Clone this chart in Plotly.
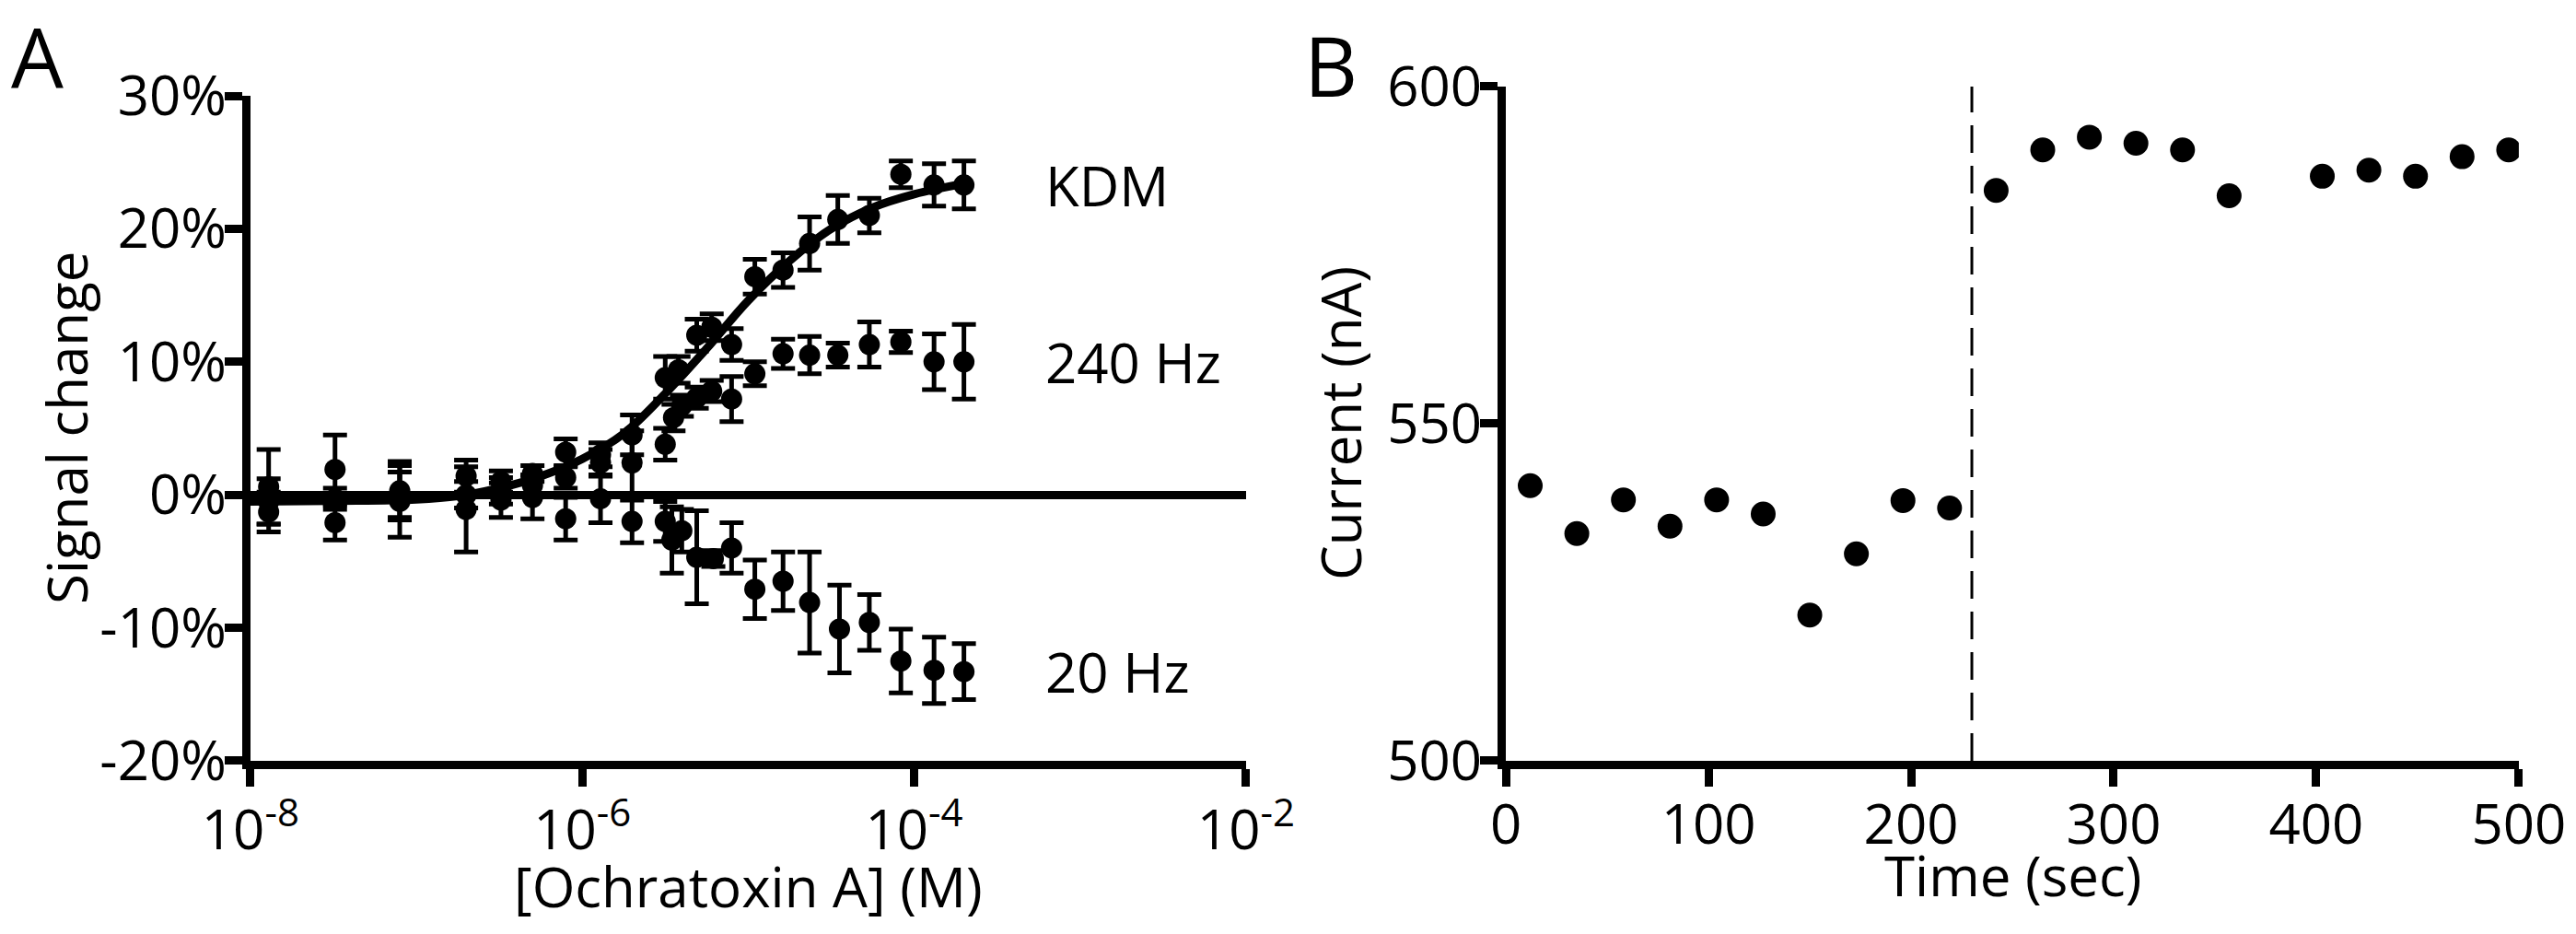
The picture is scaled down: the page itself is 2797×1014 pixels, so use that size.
import numpy as np
import plotly.graph_objects as go

# ---- panel A: signal change vs [Ochratoxin A] (log10 M) ----
kdm_logc = [-7.89, -7.49, -7.10, -6.70, -6.49, -6.30, -6.10, -5.89, -5.70, -5.50, -5.42,
            -5.31, -5.22, -5.10, -4.96, -4.79, -4.63, -4.46, -4.27, -4.08, -3.88, -3.70]
kdm_signal = [0.6, -0.3, 0.0, 0.0, 0.3, 1.6, 3.2, 3.0, 4.5, 8.8, 9.4,
              12.0, 12.6, 11.3, 16.4, 16.9, 18.9, 20.7, 21.0, 24.1, 23.3, 23.3]
kdm_err = [2.8, 0.8, 1.7, 1.0, 1.0, 0.6, 1.0, 0.9, 1.5, 1.6, 1.0,
           1.2, 1.0, 1.2, 1.3, 1.3, 2.0, 1.8, 1.3, 1.0, 1.6, 1.8]

hz240_logc = [-7.89, -7.49, -7.10, -6.70, -6.49, -6.30, -6.10, -5.89, -5.70, -5.50, -5.45, -5.40,
              -5.31, -5.22, -5.10, -4.96, -4.79, -4.63, -4.46, -4.27, -4.08, -3.88, -3.70]
hz240_signal = [-0.5, 1.9, 0.3, 1.4, 1.0, 0.7, 1.3, 2.4, 2.4, 3.8, 5.8, 6.7,
                7.3, 7.8, 7.2, 9.1, 10.6, 10.5, 10.5, 11.3, 11.5, 10.0, 10.0]
hz240_err = [1.7, 2.6, 2.2, 1.2, 0.8, 0.8, 0.8, 1.0, 2.4, 1.2, 1.0, 0.8,
             0.8, 0.8, 1.7, 0.9, 1.1, 1.4, 0.9, 1.7, 0.8, 2.1, 2.8]

hz20_logc = [-7.89, -7.49, -7.10, -6.70, -6.49, -6.30, -6.10, -5.89, -5.70, -5.50, -5.46, -5.40,
             -5.31, -5.21, -5.10, -4.96, -4.79, -4.63, -4.45, -4.27, -4.08, -3.88, -3.70]
hz20_signal = [-1.3, -2.1, -0.5, -1.1, -0.4, -0.2, -1.8, -0.3, -2.0, -2.0, -3.4, -2.7,
               -4.7, -4.8, -4.0, -7.1, -6.5, -8.1, -10.1, -9.6, -12.5, -13.2, -13.3]
hz20_err = [1.5, 1.3, 2.7, 3.2, 1.3, 1.6, 1.6, 1.8, 1.6, 1.5, 2.5, 1.6,
            3.5, 0.6, 1.9, 2.2, 2.2, 3.8, 3.3, 2.1, 2.4, 2.5, 2.1]

# KDM fit line
fit_logc = [-8.0, -7.5, -7.0, -6.75, -6.5, -6.25, -6.0, -5.75, -5.5, -5.25,
            -5.0, -4.75, -4.5, -4.25, -4.0, -3.7]
fit_signal = [-0.5, -0.45, -0.35, -0.1, 0.5, 1.4, 2.7, 4.6, 7.6, 11.0,
              14.6, 17.6, 20.0, 21.6, 22.6, 23.4]

series_names = ["KDM", "240 Hz", "20 Hz"]

a_xticks = [1e-8, 1e-6, 1e-4, 1e-2]
a_xticktext = ["10<sup>-8</sup>", "10<sup>-6</sup>", "10<sup>-4</sup>", "10<sup>-2</sup>"]
a_yticks = [-20, -10, 0, 10, 20, 30]
a_yticktext = ["-20%", "-10%", "0%", "10%", "20%", "30%"]

# ---- panel B: current over time ----
time_sec = [12, 35, 58, 81, 104, 127, 150, 173, 196, 219, 242, 265, 288, 311, 334, 357,
            403, 426, 449, 472, 495]
current_na = [540.8, 533.7, 538.7, 534.8, 538.7, 536.6, 521.6, 530.7, 538.6, 537.5,
              584.6, 590.6, 592.5, 591.6, 590.6, 583.8, 586.7, 587.6, 586.7, 589.6, 590.6]
injection_time = 230

b_xticks = [0, 100, 200, 300, 400, 500]
b_yticks = [500, 550, 600]

FONT = "Open Sans"
BLACK = "black"
W, H = 2797, 1014


def conc(logs):
    return np.power(10.0, np.array(logs))


fig = go.Figure()

fig.add_trace(go.Scatter(
    x=conc(fit_logc), y=fit_signal, mode="lines", line=dict(color=BLACK, width=9, shape="spline"),
    xaxis="x", yaxis="y", showlegend=False, hoverinfo="skip"))

for logc, sig, err in [(kdm_logc, kdm_signal, kdm_err),
                       (hz240_logc, hz240_signal, hz240_err),
                       (hz20_logc, hz20_signal, hz20_err)]:
    fig.add_trace(go.Scatter(
        x=conc(logc), y=sig, mode="markers",
        marker=dict(color=BLACK, size=23),
        error_y=dict(type="data", array=err, visible=True, color=BLACK, thickness=5, width=13),
        xaxis="x", yaxis="y", showlegend=False))

fig.add_trace(go.Scatter(
    x=time_sec, y=current_na, mode="markers", marker=dict(color=BLACK, size=27),
    xaxis="x2", yaxis="y2", showlegend=False))

fig.add_shape(type="line", xref="x2", yref="y2 domain", x0=injection_time, x1=injection_time,
              y0=0, y1=1, line=dict(color=BLACK, width=3, dash="30px,14px"))

axis_common = dict(
    showline=True, linecolor=BLACK, linewidth=9, automargin=False,
    ticks="outside", ticklen=19, tickwidth=9, tickcolor=BLACK,
    showgrid=False, zeroline=False,
    tickfont=dict(family=FONT, size=60, color=BLACK),
)
y_common = dict(axis_common, ticklabelstandoff=-14)

fig.update_layout(
    template="none",
    width=W, height=H,
    margin=dict(l=0, r=0, t=0, b=0, pad=0, autoexpand=False),
    paper_bgcolor="white", plot_bgcolor="white",
    font=dict(family=FONT, color=BLACK, size=60),
    xaxis=dict(axis_common, ticklabelstandoff=-4, type="log", range=[-8, -2],
               domain=[0.0972, 0.4837], tickvals=a_xticks, ticktext=a_xticktext, anchor="y"),
    yaxis=dict(y_common, range=[-20, 30], domain=[0.1855, 0.8974],
               tickvals=a_yticks, ticktext=a_yticktext, anchor="x",
               zeroline=True, zerolinecolor=BLACK, zerolinewidth=9),
    xaxis2=dict(axis_common, ticklabelstandoff=-10, range=[0, 500],
                domain=[0.5846, 0.9778], tickvals=b_xticks, anchor="y2"),
    yaxis2=dict(y_common, range=[500, 600], domain=[0.1855, 0.9073],
                tickvals=b_yticks, anchor="x2"),
)

label_logc = -3.22
annotations = [
    dict(text=name, x=label_logc, y=sig[-1], xref="x", yref="y", xanchor="left",
         yanchor="middle", showarrow=False, font=dict(size=60))
    for name, sig in zip(series_names, [kdm_signal, hz240_signal, hz20_signal])
]
annotations += [
    dict(text="A", x=40 / W, y=1 - 60 / H, font=dict(size=90)),
    dict(text="B", x=1445 / W, y=1 - 70 / H, font=dict(size=90)),
    dict(text="Signal change", x=72 / W, y=1 - 465 / H, textangle=-90, font=dict(size=60)),
    dict(text="[Ochratoxin A] (M)", x=812 / W, y=1 - 962 / H, font=dict(size=60)),
    dict(text="Current (nA)", x=1455 / W, y=1 - 460 / H, textangle=-90, font=dict(size=60)),
    dict(text="Time (sec)", x=2185 / W, y=1 - 950 / H, font=dict(size=60)),
]
for a in annotations[3:]:
    a.update(xref="paper", yref="paper", xanchor="center", yanchor="middle", showarrow=False)
fig.update_layout(annotations=annotations)

fig.write_html(
    "out.html",
    config={"displayModeBar": False},
    post_script="document.body.style.margin='0';document.body.style.overflow='hidden';",
)
